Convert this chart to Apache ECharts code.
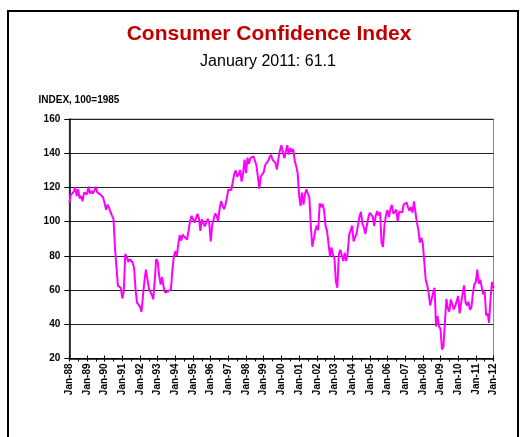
<!DOCTYPE html>
<html><head><meta charset="utf-8">
<script src="https://cdn.jsdelivr.net/npm/echarts@6/dist/echarts.min.js"></script>
<style>html,body{margin:0;padding:0;background:#fff}#c{width:524px;height:437px}</style>
</head><body><div id="c"></div>
<script>
// Monthly index values (1985=100), Jan..Dec of each year
const y1988 = [110.7, 115.5, 114.5, 117.5, 120.0, 115.0, 119.0, 113.6, 115.0, 112.0, 117.0, 117.0];
const y1989 = [116.0, 120.5, 116.5, 118.0, 116.5, 118.0, 120.4, 117.0, 117.2, 116.0, 116.5, 114.0];
const y1990 = [110.7, 107.0, 110.0, 108.0, 105.5, 103.5, 101.7, 84.7, 85.6, 62.6, 61.7, 61.2];
const y1991 = [55.1, 59.4, 81.1, 79.4, 76.4, 78.0, 77.0, 76.1, 72.9, 60.1, 52.7, 52.9];
const y1992 = [50.2, 47.3, 56.5, 65.1, 71.9, 72.6, 61.2, 59.0, 57.3, 54.6, 65.6, 78.1];
const y1993 = [76.7, 68.5, 63.2, 67.6, 61.9, 58.6, 59.2, 59.3, 59.7, 60.5, 71.9, 79.8];
const y1994 = [82.6, 79.9, 86.7, 92.1, 88.9, 92.5, 91.3, 90.4, 89.5, 89.1, 100.4, 103.4];
const y1995 = [101.4, 99.4, 100.2, 104.6, 102.0, 94.6, 101.4, 102.4, 97.3, 96.3, 101.6, 99.2];
const y1996 = [88.4, 98.0, 98.4, 104.8, 103.5, 100.1, 107.0, 112.0, 111.8, 107.3, 109.5, 114.2];
const y1997 = [118.7, 118.9, 118.5, 118.5, 127.9, 129.9, 126.3, 127.6, 130.2, 123.4, 128.1, 136.2];
const y1998 = [128.3, 137.4, 133.8, 137.2, 136.3, 138.2, 137.2, 133.1, 126.4, 119.3, 126.4, 126.7];
const y1999 = [128.9, 133.1, 134.0, 135.5, 137.7, 139.0, 136.2, 136.0, 134.2, 130.5, 137.0, 141.7];
const y2000 = [144.7, 140.8, 137.1, 137.7, 144.7, 139.2, 143.0, 140.8, 142.5, 135.8, 132.6, 128.6];
const y2001 = [115.7, 109.2, 116.9, 109.9, 116.1, 118.9, 116.3, 114.0, 97.0, 85.3, 84.9, 94.6];
const y2002 = [97.8, 95.0, 110.7, 108.5, 110.3, 106.3, 97.4, 94.5, 93.7, 79.6, 84.9, 80.7];
const y2003 = [78.8, 64.8, 61.4, 81.0, 83.6, 83.5, 77.0, 81.7, 77.0, 81.7, 92.5, 94.8];
const y2004 = [97.7, 88.5, 88.5, 93.0, 93.1, 102.8, 105.7, 98.7, 96.7, 92.9, 92.6, 102.3];
const y2005 = [105.1, 104.4, 103.0, 97.5, 103.1, 106.2, 103.6, 105.5, 87.5, 85.2, 98.3, 103.8];
const y2006 = [106.8, 102.7, 107.5, 109.8, 104.7, 105.4, 107.0, 100.2, 105.9, 105.1, 105.3, 110.0];
const y2007 = [110.2, 111.2, 108.2, 106.3, 108.5, 105.3, 111.9, 105.6, 99.5, 95.2, 87.8, 90.6];
const y2008 = [87.3, 76.4, 65.9, 62.8, 58.1, 51.0, 51.9, 58.5, 61.4, 38.8, 44.7, 38.6];
const y2009 = [37.4, 25.3, 26.9, 40.8, 54.8, 49.3, 47.4, 54.5, 53.4, 48.7, 50.6, 53.6];
const y2010 = [56.5, 46.4, 52.3, 57.7, 62.7, 52.9, 51.0, 53.2, 48.6, 49.9, 57.8, 63.4];
const y2011 = [64.8, 72.0, 63.8, 66.0, 61.7, 57.6, 59.2, 45.2, 46.4, 40.9, 55.2, 64.8];
const y2012 = [61.1];

const tickLabels = ['Jan-88','Jan-89','Jan-90','Jan-91','Jan-92','Jan-93','Jan-94','Jan-95','Jan-96',
  'Jan-97','Jan-98','Jan-99','Jan-00','Jan-01','Jan-02','Jan-03','Jan-04','Jan-05','Jan-06',
  'Jan-07','Jan-08','Jan-09','Jan-10','Jan-11','Jan-12'];
const yTicks = [20, 40, 60, 80, 100, 120, 140, 160];

const titleText = 'Consumer Confidence Index';
const subtitleText = 'January 2011: 61.1';
const unitText = 'INDEX, 100=1985';

const values = [].concat(y1988, y1989, y1990, y1991, y1992, y1993, y1994, y1995, y1996, y1997,
  y1998, y1999, y2000, y2001, y2002, y2003, y2004, y2005, y2006, y2007, y2008, y2009, y2010, y2011, y2012);
const seriesData = values.map((v, i) => [i, v]);
const lastIdx = values.length - 1;

const FONT = '"Liberation Sans", Arial, Helvetica, sans-serif';
const chart = echarts.init(document.getElementById('c'), null, {renderer: 'canvas'});
chart.setOption({
  animation: false,
  backgroundColor: '#fff',
  grid: {left: 69.3, right: 30.5, top: 119, bottom: 78.5, show: true, borderColor: '#888', borderWidth: 1, backgroundColor: 'transparent'},
  graphic: [
    {type: 'rect', silent: true, shape: {x: 8, y: 11, width: 510, height: 460}, style: {fill: 'none', stroke: '#000', lineWidth: 2}},
    {type: 'text', silent: true, x: 269, y: 34.5, style: {text: titleText, font: 'bold 21px ' + FONT, fill: '#C00000', align: 'center', verticalAlign: 'middle'}},
    {type: 'text', silent: true, x: 268, y: 62, style: {text: subtitleText, font: '16px ' + FONT, fill: '#000', align: 'center', verticalAlign: 'middle'}},
    {type: 'text', silent: true, x: 38.5, y: 100, style: {text: unitText, font: 'bold 10px ' + FONT, fill: '#000', align: 'left', verticalAlign: 'middle'}}
  ],
  xAxis: [{
    type: 'value', min: 0, max: lastIdx, interval: 12,
    axisLine: {show: true, onZero: false, lineStyle: {color: '#000', width: 1.5}},
    axisTick: {show: true, length: 3, lineStyle: {color: '#000', width: 1}},
    minorTick: {show: true, splitNumber: 2, length: 3, lineStyle: {color: '#000', width: 1}},
    splitLine: {show: false},
    axisLabel: {rotate: 90, margin: 5, color: '#000', fontFamily: FONT, fontSize: 10, fontWeight: 'bold',
      formatter: v => tickLabels[Math.round(v / 12)]}
  }, {
    type: 'value', min: 0, max: lastIdx, interval: 12, position: 'bottom',
    axisLine: {show: false},
    axisTick: {show: true, inside: true, length: 3, lineStyle: {color: '#000', width: 1}},
    axisLabel: {show: false}, splitLine: {show: false}
  }],
  yAxis: {
    type: 'value', min: yTicks[0], max: yTicks[yTicks.length - 1], interval: 20,
    axisLine: {show: true, lineStyle: {color: '#000', width: 1.5}},
    axisTick: {show: true, length: 5, lineStyle: {color: '#000', width: 1}},
    splitLine: {show: true, lineStyle: {color: '#222', width: 1}},
    axisLabel: {margin: 9, color: '#000', fontFamily: FONT, fontSize: 10, fontWeight: 'bold'}
  },
  series: [{
    type: 'line', data: seriesData, showSymbol: false, symbol: 'none',
    lineStyle: {color: '#FF00FF', width: 2}, itemStyle: {color: '#FF00FF'}, z: 3
  }]
});
</script></body></html>
